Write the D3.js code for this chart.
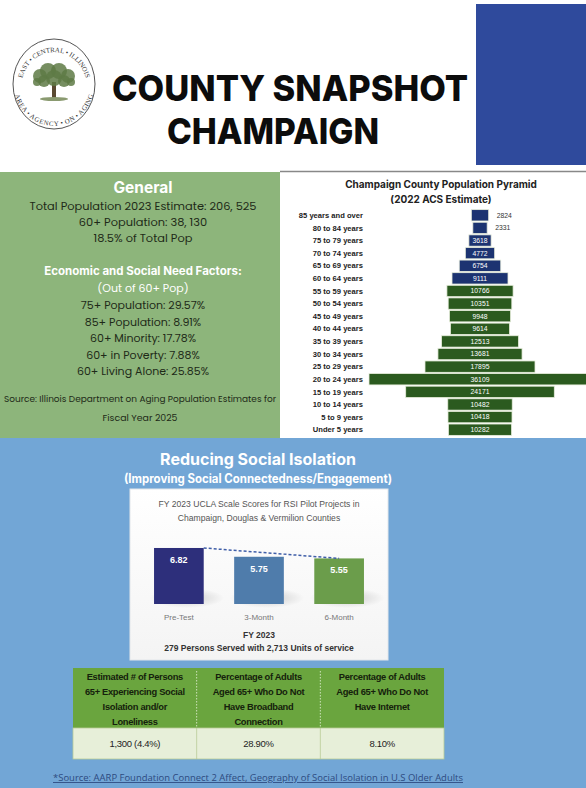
<!DOCTYPE html>
<html><head><meta charset="utf-8">
<script src="https://cdn.jsdelivr.net/npm/d3@7"></script>
<style>
body{margin:0;background:#fff;}
svg{display:block;}
</style></head>
<body>
<script>
// ---------- DATA ----------
const ageGroups = ["85 years and over","80 to 84 years","75 to 79 years","70 to 74 years","65 to 69 years","60 to 64 years","55 to 59 years","50 to 54 years","45 to 49 years","40 to 44 years","35 to 39 years","30 to 34 years","25 to 29 years","20 to 24 years","15 to 19 years","10 to 14 years","5 to 9 years","Under 5 years"];
const agePop = [2824,2331,3618,4772,6754,9111,10766,10351,9948,9614,12513,13681,17895,36109,24171,10482,10418,10282];
const ageSenior = [true,true,true,true,true,true,false,false,false,false,false,false,false,false,false,false,false,false];

const uclaCategories = ["Pre-Test","3-Month","6-Month"];
const uclaScores = [6.82,5.75,5.55];

const generalLines = ["Total Population 2023 Estimate: 206, 525","60+ Population: 38, 130","18.5% of Total Pop"];
const needLines = ["75+ Population: 29.57%","85+ Population: 8.91%","60+ Minority: 17.78%","60+ in Poverty: 7.88%","60+ Living Alone: 25.85%"];

const tableHeaders = [
  ["Estimated # of Persons","65+ Experiencing Social","Isolation and/or","Loneliness"],
  ["Percentage of Adults","Aged 65+ Who Do Not","Have Broadband","Connection"],
  ["Percentage of Adults","Aged 65+ Who Do Not","Have Internet"]
];
const tableValues = ["1,300 (4.4%)","28.90%","8.10%"];

// ---------- SVG ----------
const W = 586, H = 788;
const svg = d3.select("body").append("svg").attr("width", W).attr("height", H);
const defs = svg.append("defs");

// ---------- HEADER ----------
svg.append("rect").attr("x",476).attr("y",4).attr("width",110).attr("height",161).attr("fill","#2f4a9c");

// logo
const logo = svg.append("g").attr("transform","translate(54,84)");
logo.append("ellipse").attr("rx",41).attr("ry",45).attr("fill","#fff").attr("stroke","#555").attr("stroke-width",1);
defs.append("path").attr("id","arcTop").attr("d","M -33,4 A 33,36 0 0 1 33,4");
defs.append("path").attr("id","arcBot").attr("d","M -36,-2 A 36,39 0 0 0 36,-2");
logo.append("text").attr("font-family","Liberation Serif").attr("font-size",6.8).attr("fill","#333")
  .append("textPath").attr("href","#arcTop").attr("startOffset","50%").attr("text-anchor","middle").text("EAST • CENTRAL • ILLINOIS");
logo.append("text").attr("font-family","Liberation Serif").attr("font-size",6.8).attr("fill","#333").attr("dy",5)
  .append("textPath").attr("href","#arcBot").attr("startOffset","50%").attr("text-anchor","middle").text("AREA • AGENCY • ON • AGING");
// tree
logo.append("rect").attr("x",-2).attr("y",-2).attr("width",4).attr("height",16).attr("fill","#5a4a32");
logo.append("ellipse").attr("cx",0).attr("cy",15).attr("rx",14).attr("ry",2).attr("fill","#8a9a70");
const leaves = [[-14,-8,7],[-6,-13,8],[5,-13,8],[14,-8,7],[-10,-3,6],[0,-6,8],[10,-3,6],[-17,-2,4],[17,-2,4]];
logo.selectAll("circle.leaf").data(leaves).join("circle").attr("class","leaf")
  .attr("cx",d=>d[0]).attr("cy",d=>d[1]).attr("r",d=>d[2]).attr("fill","#5e7a45").attr("opacity",0.85);

svg.append("text").attr("x",290).attr("y",101).attr("text-anchor","middle")
  .attr("font-family","Inter, 'Open Sans', sans-serif").attr("font-weight",800).attr("font-size",36)
  .attr("textLength",356).attr("lengthAdjust","spacingAndGlyphs").attr("fill","#0c0c0c").text("COUNTY SNAPSHOT");
svg.append("text").attr("x",273).attr("y",144).attr("text-anchor","middle")
  .attr("font-family","Inter, 'Open Sans', sans-serif").attr("font-weight",800).attr("font-size",36)
  .attr("textLength",212).attr("lengthAdjust","spacingAndGlyphs").attr("fill","#0c0c0c").text("CHAMPAIGN");

// ---------- GENERAL PANEL ----------
svg.append("rect").attr("x",0).attr("y",172).attr("width",280).attr("height",266).attr("fill","#8db57b");
const gx = 143;
const gFont = "Poppins, 'Open Sans', sans-serif";
svg.append("text").attr("x",gx).attr("y",193).attr("text-anchor","middle").attr("font-family","Inter, sans-serif")
  .attr("font-weight",700).attr("font-size",15.5).attr("fill","#fff").text("General");
svg.selectAll("text.gen").data(generalLines).join("text").attr("class","gen")
  .attr("x",gx).attr("y",(d,i)=>210+i*16).attr("text-anchor","middle").attr("font-family",gFont)
  .attr("font-size",11.4).attr("fill","#1e2a18").text(d=>d);
svg.append("text").attr("x",gx).attr("y",275).attr("text-anchor","middle").attr("font-family","Inter, sans-serif")
  .attr("font-weight",700).attr("font-size",11.5).attr("fill","#fff").text("Economic and Social Need Factors:");
svg.append("text").attr("x",gx).attr("y",292).attr("text-anchor","middle").attr("font-family",gFont)
  .attr("font-size",11).attr("fill","#fff").text("(Out of 60+ Pop)");
svg.selectAll("text.need").data(needLines).join("text").attr("class","need")
  .attr("x",gx).attr("y",(d,i)=>309+i*16.6).attr("text-anchor","middle").attr("font-family",gFont)
  .attr("font-size",11).attr("fill","#1e2a18").text(d=>d);
svg.append("text").attr("x",140).attr("y",402).attr("text-anchor","middle").attr("font-family",gFont)
  .attr("font-size",9.3).attr("textLength",272).attr("lengthAdjust","spacingAndGlyphs")
  .attr("fill","#1e2a18").text("Source: Illinois Department on Aging Population Estimates for");
svg.append("text").attr("x",140).attr("y",421).attr("text-anchor","middle").attr("font-family",gFont)
  .attr("font-size",9.4).attr("fill","#1e2a18").text("Fiscal Year 2025");

// ---------- PYRAMID PANEL ----------
svg.append("rect").attr("x",280).attr("y",172).attr("width",306).attr("height",266).attr("fill","#fff");
svg.append("line").attr("x1",280).attr("x2",586).attr("y1",171.5).attr("y2",171.5).attr("stroke","#888").attr("stroke-width",1.5);
svg.append("text").attr("x",441).attr("y",188).attr("text-anchor","middle").attr("font-family","Inter, sans-serif")
  .attr("font-weight",700).attr("font-size",10).attr("fill","#222").text("Champaign County Population Pyramid");
svg.append("text").attr("x",441).attr("y",203).attr("text-anchor","middle").attr("font-family","Inter, sans-serif")
  .attr("font-weight",700).attr("font-size",10).attr("fill","#222").text("(2022 ACS Estimate)");

const py = d3.scaleBand().domain(ageGroups).range([209,436]).paddingInner(0.1).paddingOuter(0.05);
const pw = d3.scaleLinear().domain([0, d3.max(agePop)]).range([0, 222]);
const pcx = 480;
const pyr = svg.append("g");
pyr.append("clipPath").attr("id","pclip").append("rect").attr("x",280).attr("y",172).attr("width",306).attr("height",266);
const rows = pyr.selectAll("g.row").data(ageGroups.map((g,i)=>({g,v:agePop[i],s:ageSenior[i]}))).join("g").attr("class","row");
rows.append("rect").attr("clip-path","url(#pclip)")
  .attr("x",d=>pcx - pw(d.v)/2).attr("y",d=>py(d.g)).attr("width",d=>pw(d.v)).attr("height",py.bandwidth())
  .attr("fill",d=>d.s?"#1c3371":"#2b5a1f").attr("stroke","#e8eedd").attr("stroke-width",0.8);
rows.append("text").attr("x",363).attr("y",d=>py(d.g)+py.bandwidth()/2).attr("dy","0.35em").attr("text-anchor","end")
  .attr("font-family","'Liberation Sans', sans-serif").attr("font-weight",700).attr("font-size",7.6).attr("fill","#222").text(d=>d.g);
rows.append("text")
  .attr("x",d=>pw(d.v) < 22 ? pcx + pw(d.v)/2 + 8 : pcx)
  .attr("y",d=>py(d.g)+py.bandwidth()/2).attr("dy","0.35em")
  .attr("text-anchor",d=>pw(d.v) < 22 ? "start":"middle")
  .attr("font-family","'Liberation Sans', sans-serif").attr("font-size",6.8)
  .attr("fill",d=>pw(d.v) < 22 ? "#333":"#fff").text(d=>d.v);

// ---------- BLUE SECTION ----------
svg.append("rect").attr("x",0).attr("y",438).attr("width",W).attr("height",H-438).attr("fill","#72a6d6");
svg.append("text").attr("x",258).attr("y",465).attr("text-anchor","middle").attr("font-family","Inter, sans-serif")
  .attr("font-weight",700).attr("font-size",16).attr("fill","#fff").text("Reducing Social Isolation");
svg.append("text").attr("x",258).attr("y",483).attr("text-anchor","middle").attr("font-family","Inter, sans-serif")
  .attr("font-weight",700).attr("font-size",12.5).attr("textLength",268).attr("lengthAdjust","spacingAndGlyphs")
  .attr("fill","#fff").text("(Improving Social Connectedness/Engagement)");

// chart box
const grad = defs.append("linearGradient").attr("id","boxg").attr("x1",0).attr("x2",0).attr("y1",0).attr("y2",1);
grad.append("stop").attr("offset","0%").attr("stop-color","#ffffff");
grad.append("stop").attr("offset","100%").attr("stop-color","#f4f4f4");
svg.append("rect").attr("x",130).attr("y",489).attr("width",258).attr("height",171).attr("fill","url(#boxg)").attr("stroke","#e2e6ea");
svg.append("text").attr("x",259).attr("y",507).attr("text-anchor","middle").attr("font-family","'Liberation Sans', sans-serif")
  .attr("font-size",8.6).attr("fill","#555").text("FY 2023 UCLA Scale Scores for RSI Pilot Projects in");
svg.append("text").attr("x",259).attr("y",521).attr("text-anchor","middle").attr("font-family","'Liberation Sans', sans-serif")
  .attr("font-size",8.6).attr("fill","#555").text("Champaign, Douglas & Vermilion Counties");

const bx = d3.scaleBand().domain(uclaCategories).range([130,388]).paddingInner(0.38).paddingOuter(0.3);
const by = d3.scaleLinear().domain([0, 7]).range([604, 604-57.5]);
const barColors = ["#2d2f7b","#4f7cab","#6b9d4b"];
// shadows
const sh = defs.append("radialGradient").attr("id","shadow");
sh.append("stop").attr("offset","0%").attr("stop-color","#000").attr("stop-opacity",0.18);
sh.append("stop").attr("offset","100%").attr("stop-color","#000").attr("stop-opacity",0);
svg.selectAll("ellipse.sh").data(uclaCategories).join("ellipse").attr("class","sh")
  .attr("cx",d=>bx(d)+bx.bandwidth()/2+8).attr("cy",by(0)-6).attr("rx",bx.bandwidth()*0.75).attr("ry",10).attr("fill","url(#shadow)");
svg.selectAll("rect.ucla").data(uclaScores).join("rect").attr("class","ucla")
  .attr("x",(d,i)=>bx(uclaCategories[i])).attr("y",d=>by(d)).attr("width",bx.bandwidth()).attr("height",d=>by(0)-by(d))
  .attr("fill",(d,i)=>barColors[i]);
svg.selectAll("text.uval").data(uclaScores).join("text").attr("class","uval")
  .attr("x",(d,i)=>bx(uclaCategories[i])+bx.bandwidth()/2).attr("y",d=>by(d)+15)
  .attr("text-anchor","middle").attr("font-family","'Liberation Sans', sans-serif").attr("font-weight",700)
  .attr("font-size",9).attr("fill","#fff").text(d=>d.toFixed(2));
// dashed trend line
svg.append("line")
  .attr("x1",bx(uclaCategories[0])+bx.bandwidth()).attr("y1",by(uclaScores[0]))
  .attr("x2",bx(uclaCategories[2])+bx.bandwidth()*0.5).attr("y2",by(uclaScores[2]))
  .attr("stroke","#3f5ea8").attr("stroke-width",1.5).attr("stroke-dasharray","3,2");
svg.selectAll("text.ucat").data(uclaCategories).join("text").attr("class","ucat")
  .attr("x",d=>bx(d)+bx.bandwidth()/2).attr("y",620).attr("text-anchor","middle")
  .attr("font-family","'Liberation Sans', sans-serif").attr("font-size",8).attr("fill","#777").text(d=>d);
svg.append("text").attr("x",259).attr("y",638).attr("text-anchor","middle").attr("font-family","'Liberation Sans', sans-serif")
  .attr("font-weight",700).attr("font-size",8.5).attr("fill","#333").text("FY 2023");
svg.append("text").attr("x",259).attr("y",651).attr("text-anchor","middle").attr("font-family","'Liberation Sans', sans-serif")
  .attr("font-weight",700).attr("font-size",8.5).attr("fill","#333").text("279 Persons Served with 2,713 Units of service");

// ---------- TABLE ----------
const tx = d3.scaleBand().domain([0,1,2]).range([73,444]);
const tTop = 668, tHeadH = 60, tValH = 31;
const tbl = svg.append("g");
tbl.append("rect").attr("x",73).attr("y",tTop).attr("width",371).attr("height",tHeadH).attr("fill","#6aa53e");
tbl.append("rect").attr("x",73).attr("y",tTop+tHeadH).attr("width",371).attr("height",tValH).attr("fill","#e7efd9").attr("stroke","#b9cc97").attr("stroke-width",0.8);
[1,2].forEach(i=>{
  tbl.append("line").attr("x1",tx(i)).attr("x2",tx(i)).attr("y1",tTop+3).attr("y2",tTop+tHeadH)
    .attr("stroke","#e8f2dc").attr("stroke-width",0.8).attr("stroke-dasharray","1.5,1.5");
  tbl.append("line").attr("x1",tx(i)).attr("x2",tx(i)).attr("y1",tTop+tHeadH).attr("y2",tTop+tHeadH+tValH)
    .attr("stroke","#b9cc97").attr("stroke-width",0.8);
});
tableHeaders.forEach((lines,i)=>{
  tbl.selectAll(null).data(lines).join("text")
    .attr("x",tx(i)+tx.bandwidth()/2).attr("y",(d,j)=>tTop+12+j*15).attr("text-anchor","middle")
    .attr("font-family","'Liberation Sans', sans-serif").attr("font-weight",700).attr("font-size",9.3)
    .attr("letter-spacing",-0.3).attr("fill","#15210c").text(d=>d);
});
tbl.selectAll("text.tv").data(tableValues).join("text").attr("class","tv")
  .attr("x",(d,i)=>tx(i)+tx.bandwidth()/2).attr("y",tTop+tHeadH+19).attr("text-anchor","middle")
  .attr("font-family","'Liberation Sans', sans-serif").attr("font-size",9.5).attr("letter-spacing",-0.3)
  .attr("fill","#222").text(d=>d);

// source
svg.append("text").attr("x",258).attr("y",781).attr("text-anchor","middle").attr("font-family","'Open Sans', sans-serif")
  .attr("font-size",8.6).attr("fill","#2d4a80").attr("text-decoration","underline")
  .attr("textLength",410).attr("lengthAdjust","spacingAndGlyphs")
  .text("*Source: AARP Foundation Connect 2 Affect, Geography of Social Isolation in U.S Older Adults");
</script>
</body></html>
